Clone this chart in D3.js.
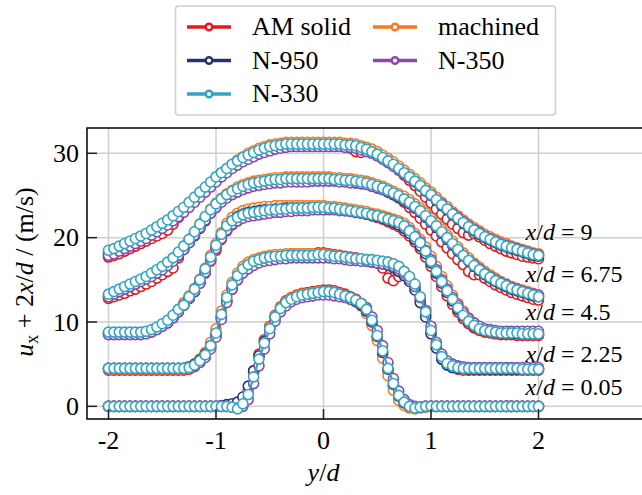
<!DOCTYPE html>
<html><head><meta charset="utf-8">
<script src="https://cdn.jsdelivr.net/npm/d3@7"></script>
</head><body style="margin:0"><svg id="chart" width="642" height="495" font-family="Liberation Serif" style="display:block;background:#fff;font-family:'Liberation Serif'"></svg>
<script>
const yPos = d3.range(81).map(i => Math.round((-2 + i * 0.05) * 100) / 100);
const xTicks = [-2, -1, 0, 1, 2];
const xTickLabels = ["-2", "-1", "0", "1", "2"];
const yTicks = [0, 10, 20, 30];
const stationLabels = ["9", "6.75", "4.5", "2.25", "0.05"];
const stationLabelX = [1.88, 1.88, 1.88, 1.88, 1.88];
const stationLabelY = [19.7, 14.8, 10.2, 5.3, 1.35];
const seriesNames = ["AM solid", "machined", "N-950", "N-350", "N-330"];

const am005 = [0,0,0,0,0,0,0,0,0,0,0,0,0,0,0,0,0,0,0,0,
 0,0,0,-0.1,-0.1,0.6,1.9,4.2,6.2,7.9,9.5,10.8,11.8,12.5,12.9,13.2,13.4,13.5,13.6,13.7,
 13.8,13.8,13.7,13.5,13.3,13.0,12.7,12.2,11.3,9.9,8.1,6.2,4.2,2.4,1.1,0.3,-0.1,-0.2,-0.1,0,
 0,0,0,0,0,0,0,0,0,0,0,0,0,0,0,0,0,0,0,0,0];
const am225 = [4.3,4.3,4.3,4.3,4.3,4.3,4.3,4.3,4.3,4.3,4.3,4.3,4.3,4.3,4.3,4.4,4.7,5.2,5.9,7.0,
 8.4,10.5,12.4,13.9,15.0,15.9,16.5,17.0,17.3,17.6,17.8,17.9,18.0,18.0,18.1,18.1,18.1,18.1,18.1,18.2,
 18.2,18.1,18.0,17.9,17.8,17.7,17.6,17.5,17.4,17.3,17.1,16.4,15.2,14.9,15.4,15.7,15.1,14.1,12.6,10.9,
 8.8,7.0,5.6,4.9,4.6,4.4,4.3,4.3,4.3,4.3,4.3,4.3,4.3,4.3,4.3,4.3,4.3,4.3,4.3,4.3,4.3];
const am450 = [8.6,8.6,8.6,8.6,8.6,8.6,8.6,8.7,8.9,9.2,9.5,9.9,10.5,11.2,12.0,12.8,13.6,14.6,15.8,17.2,
 18.5,19.8,20.8,21.5,22.0,22.4,22.7,22.9,23.1,23.2,23.3,23.4,23.5,23.5,23.6,23.6,23.6,23.6,23.7,23.7,
 23.7,23.6,23.6,23.5,23.4,23.3,23.1,23.0,22.8,22.6,22.4,22.2,21.9,21.6,21.3,20.8,20.2,19.5,18.7,17.7,
 16.6,15.4,14.2,13.1,12.1,11.2,10.4,9.8,9.3,9.0,8.8,8.7,8.6,8.5,8.5,8.5,8.4,8.4,8.4,8.4,8.4];
const am675 = [12.8,13.0,13.2,13.4,13.7,13.9,14.2,14.5,14.8,15.2,15.6,16.0,16.4,17.6,18.7,19.6,20.5,21.4,22.3,23.1,
 23.8,24.4,24.9,25.4,25.8,26.1,26.4,26.6,26.7,26.8,26.9,27.0,27.0,27.1,27.1,27.1,27.1,27.1,27.1,27.1,
 27.1,27.0,27.0,26.9,26.9,26.8,26.7,26.6,26.4,26.2,26.0,25.8,25.5,25.1,24.7,24.2,23.6,23.0,22.3,21.6,
 20.9,20.2,19.5,18.8,18.1,17.4,16.8,16.0,15.6,15.6,15.2,14.8,14.4,14.1,13.8,13.5,13.3,13.1,12.9,12.7,12.6];
const am900 = [17.7,17.9,18.1,18.4,18.7,19.0,19.3,19.6,19.9,20.2,20.5,20.9,21.6,22.4,23.3,23.9,24.5,25.1,25.7,26.3,
 26.9,27.5,28.0,28.5,29.0,29.4,29.8,30.1,30.4,30.6,30.8,30.9,31.0,31.1,31.1,31.1,31.1,31.1,31.1,31.1,
 31.1,31.1,31.0,31.0,30.9,30.6,30.2,30.1,30.3,30.1,29.8,29.4,29.0,28.5,28.0,27.4,26.8,26.2,25.5,24.8,
 24.1,23.4,22.8,22.2,21.6,21.1,20.6,20.3,20.5,20.1,19.7,19.3,19.0,18.7,18.4,18.2,18.0,17.8,17.7,17.6,17.5];

const ma005 = [0,0,0,0,0,0,0,0,0,0,0,0,0,0,0,0,0,0,0,0,
 0,0,0,0,-0.1,0.5,1.8,4.0,6.0,7.8,9.4,10.7,11.7,12.4,12.8,13.1,13.3,13.4,13.5,13.6,
 13.6,13.6,13.5,13.3,13.1,12.8,12.4,11.9,11.0,9.6,7.8,5.7,3.6,1.9,0.7,0.1,-0.2,-0.3,-0.2,-0.1,
 0,0,0,0,0,0,0,0,0,0,0,0,0,0,0,0,0,0,0,0,0];
const ma225 = [4.4,4.4,4.4,4.4,4.4,4.4,4.4,4.4,4.4,4.4,4.4,4.4,4.4,4.4,4.4,4.6,5.0,5.6,6.4,7.6,
 9.2,11.3,13.2,14.7,15.8,16.6,17.1,17.4,17.6,17.8,17.9,18.0,18.0,18.1,18.1,18.1,18.1,18.1,18.1,18.1,
 18.1,18.0,17.9,17.8,17.7,17.6,17.5,17.5,17.4,17.4,17.3,17.2,17.1,16.9,16.6,16.0,15.3,14.3,12.8,11.2,
 9.2,7.4,6.0,5.1,4.7,4.5,4.4,4.4,4.4,4.4,4.4,4.4,4.4,4.4,4.4,4.4,4.4,4.4,4.4,4.4,4.4];
const ma450 = [8.7,8.7,8.7,8.7,8.7,8.7,8.7,8.8,9.0,9.3,9.7,10.2,10.8,11.5,12.3,13.1,14.0,15.1,16.4,17.9,
 19.3,20.6,21.7,22.4,22.9,23.2,23.4,23.5,23.6,23.7,23.7,23.8,23.8,23.8,23.8,23.8,23.8,23.8,23.8,23.8,
 23.8,23.7,23.7,23.6,23.5,23.4,23.3,23.2,23.1,22.9,22.8,22.6,22.4,22.2,22.0,21.7,21.2,20.5,19.8,18.9,
 17.8,16.6,15.4,14.3,13.2,12.2,11.3,10.5,9.9,9.4,9.1,8.9,8.8,8.7,8.7,8.7,8.7,8.6,8.6,8.6,8.6];
const ma675 = [13.0,13.3,13.6,13.9,14.2,14.5,14.9,15.2,15.6,16.0,16.5,17.0,17.5,18.2,19.0,19.8,20.7,21.6,22.5,23.4,
 24.1,24.7,25.2,25.6,26.0,26.3,26.5,26.7,26.8,26.9,27.0,27.1,27.1,27.2,27.2,27.2,27.2,27.2,27.2,27.2,
 27.2,27.2,27.1,27.1,27.0,27.0,26.9,26.8,26.7,26.5,26.3,26.1,25.8,25.5,25.2,24.9,24.5,24.0,23.5,22.9,
 22.3,21.7,21.0,20.3,19.6,18.9,18.2,17.6,17.0,16.5,16.0,15.6,15.2,14.8,14.5,14.2,14.0,13.8,13.6,13.4,13.2];
const ma900 = [18.1,18.4,18.7,19.0,19.3,19.6,19.9,20.3,20.7,21.1,21.5,22.0,22.5,23.0,23.5,24.1,24.7,25.3,25.9,26.5,
 27.1,27.7,28.2,28.7,29.2,29.6,30.0,30.3,30.6,30.8,31.0,31.1,31.2,31.3,31.3,31.3,31.3,31.3,31.3,31.3,
 31.3,31.3,31.3,31.3,31.2,31.2,31.1,30.9,30.7,30.5,30.2,29.8,29.4,29.0,28.5,28.0,27.5,27.0,26.5,25.9,
 25.4,24.8,24.2,23.7,23.1,22.6,22.1,21.6,21.2,20.8,20.4,20.1,19.8,19.5,19.3,19.0,18.8,18.6,18.4,18.2,18.1];

const n950_005 = [0,0,0,0,0,0,0,0,0,0,0,0,0,0,0,0,0,0,0,0,
 0,0.1,0.2,0.3,0.5,1.1,2.4,4.2,6.0,7.7,9.2,10.5,11.5,12.2,12.6,12.9,13.1,13.2,13.3,13.4,
 13.4,13.4,13.3,13.2,13.0,12.7,12.4,12.0,11.3,10.0,8.3,6.4,4.4,2.6,1.2,0.4,0.0,-0.1,-0.1,0,
 0,0,0,0,0,0,0,0,0,0,0,0,0,0,0,0,0,0,0,0,0];
const n950_225 = [4.5,4.5,4.5,4.5,4.5,4.5,4.5,4.5,4.5,4.5,4.5,4.5,4.5,4.5,4.5,4.7,5.0,5.5,6.2,7.2,
 8.6,10.6,12.6,14.1,15.2,16.0,16.6,17.0,17.3,17.5,17.6,17.7,17.7,17.8,17.8,17.8,17.8,17.8,17.8,17.9,
 17.9,17.8,17.7,17.6,17.5,17.4,17.3,17.3,17.2,17.1,17.0,16.9,16.7,16.4,16.0,15.5,14.8,13.8,12.3,10.6,
 8.6,6.9,5.6,4.9,4.6,4.5,4.5,4.4,4.4,4.4,4.4,4.4,4.4,4.4,4.4,4.4,4.4,4.4,4.4,4.4,4.4];
const n950_450 = [8.7,8.7,8.7,8.7,8.7,8.7,8.7,8.8,9.0,9.3,9.6,10.0,10.6,11.3,12.0,12.8,13.6,14.7,16.0,17.5,
 18.9,20.2,21.3,22.0,22.5,22.8,23.0,23.1,23.2,23.3,23.3,23.4,23.4,23.5,23.5,23.5,23.5,23.5,23.5,23.5,
 23.5,23.4,23.4,23.3,23.2,23.1,23.0,22.9,22.8,22.6,22.5,22.3,22.1,21.8,21.5,21.1,20.5,19.8,19.0,18.1,
 17.0,15.8,14.6,13.5,12.5,11.5,10.7,10.0,9.5,9.2,9.0,8.9,8.8,8.7,8.7,8.7,8.6,8.6,8.6,8.6,8.6];
const n950_675 = [13.2,13.5,13.8,14.1,14.4,14.7,15.0,15.3,15.6,16.0,16.4,16.8,17.3,17.9,18.6,19.4,20.2,21.1,22.0,22.9,
 23.6,24.3,24.8,25.3,25.7,26.0,26.2,26.4,26.5,26.6,26.7,26.8,26.8,26.9,26.9,26.9,26.9,26.9,26.9,26.9,
 26.9,26.9,26.8,26.8,26.7,26.6,26.5,26.4,26.3,26.1,25.9,25.7,25.4,25.1,24.8,24.4,24.0,23.5,23.0,22.4,
 21.8,21.2,20.5,19.8,19.1,18.4,17.8,17.2,16.6,16.1,15.6,15.2,14.8,14.5,14.2,13.9,13.7,13.5,13.3,13.1,13.0];
const n950_900 = [18.2,18.4,18.7,19.0,19.3,19.6,19.9,20.2,20.6,21.0,21.4,21.8,22.2,22.7,23.2,23.8,24.4,25.0,25.6,26.2,
 26.8,27.4,27.9,28.4,28.8,29.2,29.6,29.9,30.2,30.5,30.7,30.8,30.9,31.0,31.0,31.0,31.0,31.0,31.0,31.0,
 31.0,31.0,31.0,31.0,30.9,30.9,30.8,30.6,30.4,30.1,29.8,29.4,29.0,28.6,28.1,27.6,27.1,26.6,26.1,25.5,
 25.0,24.4,23.8,23.3,22.7,22.2,21.7,21.2,20.8,20.4,20.0,19.7,19.4,19.1,18.9,18.7,18.5,18.3,18.1,17.9,17.8];

const n350_005 = [0,0,0,0,0,0,0,0,0,0,0,0,0,0,0,0,0,0,0,0,
 0,0,0,-0.1,-0.2,0.0,0.8,2.7,4.8,6.8,8.6,10.1,11.2,11.9,12.4,12.7,12.9,13.0,13.1,13.2,
 13.2,13.2,13.1,13.0,12.9,12.7,12.5,12.2,11.7,10.6,9.0,7.2,5.2,3.3,1.8,0.8,0.2,0.0,-0.1,0,
 0,0,0,0,0,0,0,0,0,0,0,0,0,0,0,0,0,0,0,0,0];
const n350_225 = [4.5,4.5,4.5,4.5,4.5,4.5,4.5,4.5,4.5,4.5,4.5,4.5,4.5,4.5,4.5,4.6,4.8,5.2,5.8,6.8,
 8.2,10.3,12.3,13.9,15.0,15.8,16.3,16.7,17.0,17.2,17.3,17.4,17.5,17.5,17.6,17.6,17.6,17.6,17.6,17.6,
 17.6,17.6,17.5,17.5,17.4,17.3,17.3,17.2,17.2,17.1,17.0,16.9,16.8,16.6,16.3,15.8,15.1,14.2,12.9,11.4,
 9.5,7.6,6.2,5.4,5.0,4.8,4.7,4.6,4.6,4.6,4.6,4.6,4.6,4.6,4.6,4.6,4.6,4.6,4.6,4.6,4.6];
const n350_450 = [8.5,8.5,8.5,8.5,8.5,8.5,8.5,8.6,8.8,9.1,9.5,9.9,10.5,11.2,12.0,12.8,13.6,14.6,15.9,17.3,
 18.7,19.9,20.9,21.6,22.0,22.3,22.5,22.6,22.7,22.8,22.9,23.0,23.0,23.1,23.1,23.2,23.2,23.2,23.3,23.3,
 23.3,23.3,23.3,23.2,23.2,23.1,23.0,22.9,22.8,22.7,22.6,22.4,22.2,22.0,21.8,21.4,20.9,20.2,19.5,18.5,
 17.4,16.2,15.0,13.9,12.9,12.0,11.1,10.4,9.9,9.5,9.2,9.1,9.0,8.9,8.9,8.9,8.9,8.9,8.9,8.9,8.9];
const n350_675 = [13.0,13.3,13.6,13.9,14.2,14.5,14.8,15.1,15.4,15.8,16.2,16.7,17.2,17.9,18.6,19.4,20.3,21.2,22.1,22.9,
 23.6,24.2,24.7,25.1,25.4,25.7,25.9,26.1,26.2,26.3,26.4,26.5,26.5,26.6,26.6,26.6,26.6,26.6,26.7,26.7,
 26.7,26.7,26.7,26.6,26.6,26.5,26.5,26.4,26.3,26.1,25.9,25.7,25.5,25.2,24.9,24.5,24.1,23.6,23.1,22.5,
 21.9,21.3,20.6,19.9,19.2,18.5,17.9,17.3,16.8,16.3,15.8,15.4,15.0,14.7,14.4,14.1,13.9,13.7,13.5,13.3,13.2];
const n350_900 = [17.9,18.1,18.4,18.7,19.0,19.3,19.6,19.9,20.3,20.7,21.1,21.5,22.0,22.5,23.0,23.6,24.2,24.8,25.4,26.0,
 26.6,27.2,27.7,28.2,28.6,29.0,29.3,29.6,29.9,30.1,30.3,30.5,30.6,30.7,30.8,30.8,30.8,30.8,30.8,30.8,
 30.8,30.8,30.8,30.8,30.7,30.7,30.6,30.4,30.2,30.0,29.7,29.3,28.9,28.5,28.1,27.6,27.1,26.6,26.1,25.6,
 25.1,24.5,24.0,23.4,22.9,22.4,21.9,21.4,21.0,20.6,20.2,19.9,19.6,19.3,19.1,18.9,18.7,18.5,18.3,18.1,18.0];

const n330_005 = [0,0,0,0,0,0,0,0,0,0,0,0,0,0,0,0,0,0,0,0,
 0,0,0,-0.1,-0.3,0.3,1.4,3.5,5.6,7.5,9.2,10.6,11.6,12.3,12.7,13.0,13.2,13.3,13.4,13.5,
 13.6,13.6,13.5,13.3,13.1,12.9,12.6,12.2,11.5,10.2,8.4,6.6,4.5,2.7,1.3,0.5,0.0,-0.2,-0.1,0,
 0,0,0,0,0,0,0,0,0,0,0,0,0,0,0,0,0,0,0,0,0];
const n330_225 = [4.5,4.5,4.5,4.5,4.5,4.5,4.5,4.5,4.5,4.5,4.5,4.5,4.5,4.5,4.5,4.6,4.9,5.4,6.1,7.2,
 8.7,10.9,12.9,14.4,15.5,16.3,16.8,17.2,17.4,17.6,17.7,17.8,17.8,17.9,17.9,17.9,17.9,17.9,17.9,18.0,
 18.0,17.9,17.8,17.8,17.7,17.6,17.5,17.5,17.4,17.4,17.3,17.2,17.1,16.9,16.6,16.0,15.4,14.5,13.0,11.2,
 9.0,7.3,5.9,5.1,4.8,4.6,4.5,4.5,4.5,4.5,4.5,4.5,4.5,4.5,4.5,4.5,4.5,4.4,4.4,4.4,4.4];
const n330_450 = [8.8,8.8,8.8,8.8,8.8,8.8,8.8,8.9,9.1,9.4,9.8,10.2,10.8,11.5,12.0,13.0,13.9,15.0,16.3,17.7,
 19.1,20.4,21.4,22.0,22.4,22.7,22.9,23.0,23.1,23.2,23.3,23.3,23.4,23.4,23.5,23.5,23.5,23.5,23.6,23.6,
 23.6,23.5,23.5,23.4,23.3,23.2,23.1,23.0,22.9,22.7,22.6,22.4,22.2,22.0,21.8,21.4,20.8,20.1,19.4,18.4,
 17.2,16.0,14.8,13.7,12.7,11.7,10.8,10.1,9.6,9.2,9.0,8.9,8.8,8.7,8.7,8.7,8.7,8.6,8.6,8.6,8.6];
const n330_675 = [13.3,13.6,13.9,14.2,14.5,14.8,15.1,15.4,15.8,16.2,16.6,17.1,17.6,18.3,19.0,19.8,20.7,21.6,22.5,23.3,
 24.0,24.6,25.1,25.5,25.8,26.1,26.3,26.5,26.6,26.7,26.8,26.9,26.9,27.0,27.0,27.0,27.0,27.0,27.0,27.0,
 27.0,27.0,26.9,26.9,26.8,26.8,26.7,26.6,26.5,26.3,26.1,25.9,25.6,25.3,25.0,24.6,24.2,23.7,23.2,22.6,
 22.0,21.4,20.7,20.0,19.3,18.6,17.9,17.3,16.7,16.2,15.7,15.3,14.9,14.6,14.3,14.0,13.8,13.6,13.4,13.2,13.0];
const n330_900 = [18.5,18.7,19.0,19.3,19.6,19.9,20.2,20.5,20.9,21.3,21.7,22.1,22.6,23.1,23.6,24.2,24.8,25.4,26.0,26.6,
 27.2,27.7,28.2,28.7,29.1,29.5,29.8,30.1,30.4,30.6,30.8,30.9,31.0,31.1,31.1,31.1,31.1,31.1,31.1,31.1,
 31.1,31.1,31.1,31.1,31.0,31.0,30.9,30.7,30.5,30.2,29.9,29.5,29.1,28.7,28.2,27.7,27.2,26.7,26.2,25.6,
 25.1,24.5,23.9,23.4,22.8,22.3,21.8,21.3,20.9,20.5,20.1,19.8,19.5,19.2,19.0,18.8,18.6,18.4,18.2,18.0,17.9];

const seriesColors = {"AM solid":"#e3191c","machined":"#fb7a21","N-950":"#25346f","N-350":"#8e47ad","N-330":"#2fa6c6"};
const profiles = {
  "AM solid": [am005, am225, am450, am675, am900],
  "machined": [ma005, ma225, ma450, ma675, ma900],
  "N-950": [n950_005, n950_225, n950_450, n950_675, n950_900],
  "N-350": [n350_005, n350_225, n350_450, n350_675, n350_900],
  "N-330": [n330_005, n330_225, n330_450, n330_675, n330_900]
};

const svg = d3.select("#chart");
const m = {left: 87, top: 128, right: 646, bottom: 419};
const x = d3.scaleLinear().domain([-2.2, 3.0]).range([m.left, m.right]);
const y = d3.scaleLinear().domain([-1.5, 33]).range([m.bottom, m.top]);

function serifText(parent, size) {
  return parent.append("text").attr("font-family", "Liberation Serif")
    .style("font-family", '"Liberation Serif"').style("font-size", size + "px").attr("fill", "#000");
}

// grid
const grid = svg.append("g");
grid.selectAll("line.gx").data(xTicks).join("line")
  .attr("x1", d => x(d)).attr("x2", d => x(d)).attr("y1", m.top).attr("y2", m.bottom)
  .attr("stroke", "#cfcfcf").attr("stroke-width", 1.5);
grid.selectAll("line.gy").data(yTicks).join("line")
  .attr("x1", m.left).attr("x2", 642).attr("y1", d => y(d)).attr("y2", d => y(d))
  .attr("stroke", "#cfcfcf").attr("stroke-width", 1.5);

// series (drawn in order, N-330 on top)
const plot = svg.append("g");
const line = d3.line().x((d, i) => x(yPos[i])).y(d => y(d));
seriesNames.forEach(name => {
  const col = seriesColors[name];
  const g = plot.append("g");
  profiles[name].forEach(arr => {
    g.append("path").attr("d", line(arr)).attr("fill", "none")
      .attr("stroke", col).attr("stroke-width", 2.2);
    g.selectAll(null).data(arr).join("circle")
      .attr("cx", (d, i) => x(yPos[i])).attr("cy", d => y(d)).attr("r", 5.0)
      .attr("fill", "#fff").attr("stroke", col).attr("stroke-width", 1.6);
  });
});

// ticks (inward) and their labels
const tickG = svg.append("g");
xTicks.forEach((t, i) => {
  tickG.append("line").attr("x1", x(t)).attr("x2", x(t)).attr("y1", m.bottom).attr("y2", m.bottom - 10)
    .attr("stroke", "#222").attr("stroke-width", 1.5);
  serifText(tickG, 26).attr("x", x(t)).attr("y", y(-1.5) + 30).attr("text-anchor", "middle").text(xTickLabels[i]);
});
yTicks.forEach(t => {
  tickG.append("line").attr("x1", m.left).attr("x2", m.left + 10).attr("y1", y(t)).attr("y2", y(t))
    .attr("stroke", "#222").attr("stroke-width", 1.5);
  serifText(tickG, 26).attr("x", m.left - 8).attr("y", y(t) + 8.5).attr("text-anchor", "end").text(t);
});

// spines (left, bottom, top)
svg.append("path")
  .attr("d", `M642,${m.top}H${m.left}V${m.bottom}H642`)
  .attr("fill", "none").attr("stroke", "#000").attr("stroke-width", 1.5);

// station annotations
stationLabels.forEach((lab, i) => {
  const t = serifText(svg, 24).attr("x", x(stationLabelX[i])).attr("y", y(stationLabelY[i]));
  t.append("tspan").style("font-style", "italic").text("x");
  t.append("tspan").text("/");
  t.append("tspan").style("font-style", "italic").text("d");
  t.append("tspan").text(" = " + lab);
});

// axis labels
const xl = serifText(svg, 26).attr("x", x(0)).attr("y", 481).attr("text-anchor", "middle");
xl.append("tspan").style("font-style", "italic").text("y");
xl.append("tspan").text("/");
xl.append("tspan").style("font-style", "italic").text("d");

const yl = serifText(svg, 26).attr("transform", "translate(33,272) rotate(-90)").attr("text-anchor", "middle");
yl.append("tspan").style("font-style", "italic").text("u");
yl.append("tspan").style("font-size", "18px").attr("dy", 5).text("x");
yl.append("tspan").attr("dy", -5).text(" + 2");
yl.append("tspan").style("font-style", "italic").text("x");
yl.append("tspan").text("/");
yl.append("tspan").style("font-style", "italic").text("d");
yl.append("tspan").text(" / (m/s)");

// legend
const lg = svg.append("g");
lg.append("rect").attr("x", 175.5).attr("y", 6).attr("width", 380).attr("height", 109).attr("rx", 3)
  .attr("fill", "#fff").attr("stroke", "#cfcfcf").attr("stroke-width", 1.5);
const legendOrder = ["AM solid", "N-950", "N-330", "machined", "N-350"];
legendOrder.forEach((name, k) => {
  const col = k < 3 ? 0 : 1, row = k < 3 ? k : k - 3;
  const x0 = col === 0 ? 187 : 373, yy = 27 + row * 33.5;
  const c = seriesColors[name];
  lg.append("line").attr("x1", x0).attr("x2", x0 + 44).attr("y1", yy).attr("y2", yy)
    .attr("stroke", c).attr("stroke-width", 3.5);
  lg.append("circle").attr("cx", x0 + 22).attr("cy", yy).attr("r", 3.3)
    .attr("fill", "#fff").attr("stroke", c).attr("stroke-width", 2.4);
  serifText(lg, 26).attr("x", x0 + 65).attr("y", yy + 8).text(name);
});
</script></body></html>
